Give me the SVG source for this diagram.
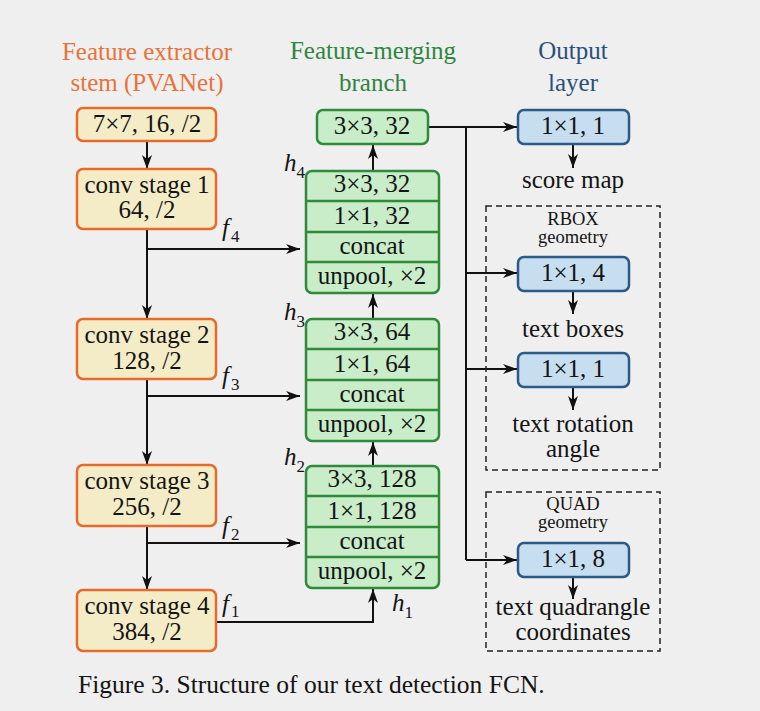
<svg xmlns="http://www.w3.org/2000/svg" width="760" height="711" viewBox="0 0 760 711">
<defs>
<marker id="ah" viewBox="0 0 14 10" refX="14" refY="5" markerWidth="14" markerHeight="10" markerUnits="userSpaceOnUse" orient="auto">
<path d="M0,0 L14,5 L0,10 L4,5 z" fill="#111"/>
</marker>
<style>
text{font-family:"Liberation Serif","Times New Roman",serif;fill:#141414}
.lbl{font-size:25px}
.small{font-size:18.5px}
.cap{font-size:25.5px}
.or{fill:#f4ecc7;stroke:#e66a2c;stroke-width:2.5}
.gr{fill:#c9ecc9;stroke:#2f8a3c;stroke-width:2.5}
.gl{stroke:#2f8a3c;stroke-width:2.5}
.bl{fill:#c6def0;stroke:#2b5a87;stroke-width:2.5}
.ln{fill:none;stroke:#111;stroke-width:2}
.ar{fill:none;stroke:#111;stroke-width:2;marker-end:url(#ah)}
.ds{fill:none;stroke:#222;stroke-width:1.5;stroke-dasharray:6,4}
.var{font-style:italic;font-size:25px}
.idx{font-size:17px;font-style:normal}
</style>
</defs>
<rect width="760" height="711" fill="#efefef"/>

<g id="headers" text-anchor="middle">
<text class="lbl" x="147" y="60" style="fill:#e8733a">Feature extractor</text>
<text class="lbl" x="147" y="91" style="fill:#e8733a">stem (PVANet)</text>
<text class="lbl" x="373" y="59" style="fill:#2e8540">Feature-merging</text>
<text class="lbl" x="373" y="91" style="fill:#2e8540">branch</text>
<text class="lbl" x="573" y="59" style="fill:#2a4f7a">Output</text>
<text class="lbl" x="573" y="91" style="fill:#2a4f7a">layer</text>
</g>

<g id="connectors">
<line class="ar" x1="147" y1="141" x2="147" y2="169"/>
<line class="ar" x1="147" y1="229" x2="147" y2="319"/>
<line class="ar" x1="147" y1="249" x2="300" y2="249"/>
<line class="ar" x1="147" y1="379" x2="147" y2="465"/>
<line class="ar" x1="147" y1="396" x2="300" y2="396"/>
<line class="ar" x1="147" y1="526" x2="147" y2="590"/>
<line class="ar" x1="147" y1="543" x2="300" y2="543"/>
<polyline class="ar" points="216,622 373,622 373,589"/>
<line class="ar" x1="373" y1="466" x2="373" y2="442"/>
<line class="ar" x1="373" y1="319" x2="373" y2="294"/>
<line class="ar" x1="373" y1="171" x2="373" y2="145"/>
<line class="ar" x1="428" y1="127" x2="517" y2="127"/>
<polyline class="ln" points="466,127 466,560"/>
<line class="ar" x1="466" y1="273" x2="517" y2="273"/>
<line class="ar" x1="466" y1="369" x2="517" y2="369"/>
<line class="ar" x1="466" y1="560" x2="517" y2="560"/>
<line class="ar" x1="573" y1="144" x2="573" y2="168"/>
<line class="ar" x1="573" y1="291" x2="573" y2="314"/>
<line class="ar" x1="573" y1="387" x2="573" y2="410"/>
<line class="ar" x1="573" y1="577" x2="573" y2="599"/>
</g>

<g id="stem0" text-anchor="middle"><rect class="or" x="77" y="108" width="139" height="33" rx="6"/><text class="lbl" x="147" y="132">7×7, 16, /2</text></g>
<g id="stage1" text-anchor="middle"><rect class="or" x="77" y="169" width="139" height="60" rx="6"/><text class="lbl" x="147" y="193">conv stage 1</text><text class="lbl" x="147" y="218">64, /2</text></g>
<g id="stage2" text-anchor="middle"><rect class="or" x="77" y="319" width="139" height="60" rx="6"/><text class="lbl" x="147" y="343">conv stage 2</text><text class="lbl" x="147" y="369">128, /2</text></g>
<g id="stage3" text-anchor="middle"><rect class="or" x="77" y="465" width="139" height="61" rx="6"/><text class="lbl" x="147" y="489">conv stage 3</text><text class="lbl" x="147" y="515">256, /2</text></g>
<g id="stage4" text-anchor="middle"><rect class="or" x="77" y="590" width="139" height="61" rx="6"/><text class="lbl" x="147" y="614">conv stage 4</text><text class="lbl" x="147" y="640">384, /2</text></g>

<g id="merge_top" text-anchor="middle"><rect class="gr" x="317" y="110" width="111" height="34" rx="6"/><text class="lbl" x="372" y="134">3×3, 32</text></g>

<g id="merge_h4" text-anchor="middle">
<rect class="gr" x="306" y="171" width="133" height="122" rx="6"/>
<line class="gl" x1="306" y1="201" x2="439" y2="201"/>
<line class="gl" x1="306" y1="232" x2="439" y2="232"/>
<line class="gl" x1="306" y1="262" x2="439" y2="262"/>
<text class="lbl" x="372" y="192">3×3, 32</text>
<text class="lbl" x="372" y="224">1×1, 32</text>
<text class="lbl" x="372" y="254">concat</text>
<text class="lbl" x="372" y="284">unpool, ×2</text>
</g>
<g id="merge_h3" text-anchor="middle">
<rect class="gr" x="306" y="319" width="133" height="122" rx="6"/>
<line class="gl" x1="306" y1="349" x2="439" y2="349"/>
<line class="gl" x1="306" y1="380" x2="439" y2="380"/>
<line class="gl" x1="306" y1="410" x2="439" y2="410"/>
<text class="lbl" x="372" y="340">3×3, 64</text>
<text class="lbl" x="372" y="372">1×1, 64</text>
<text class="lbl" x="372" y="402">concat</text>
<text class="lbl" x="372" y="432">unpool, ×2</text>
</g>
<g id="merge_h2" text-anchor="middle">
<rect class="gr" x="306" y="466" width="133" height="122" rx="6"/>
<line class="gl" x1="306" y1="496" x2="439" y2="496"/>
<line class="gl" x1="306" y1="527" x2="439" y2="527"/>
<line class="gl" x1="306" y1="557" x2="439" y2="557"/>
<text class="lbl" x="372" y="487">3×3, 128</text>
<text class="lbl" x="372" y="519">1×1, 128</text>
<text class="lbl" x="372" y="549">concat</text>
<text class="lbl" x="372" y="579">unpool, ×2</text>
</g>

<g id="labels">
<text x="222" y="236" class="var">f<tspan class="idx" dx="2" dy="6">4</tspan></text>
<text x="222" y="384" class="var">f<tspan class="idx" dx="2" dy="6">3</tspan></text>
<text x="222" y="534" class="var">f<tspan class="idx" dx="2" dy="6">2</tspan></text>
<text x="222" y="612" class="var">f<tspan class="idx" dx="2" dy="5">1</tspan></text>
<text x="284" y="171" class="var">h<tspan class="idx" dy="7">4</tspan></text>
<text x="284" y="320" class="var">h<tspan class="idx" dy="7">3</tspan></text>
<text x="284" y="465" class="var">h<tspan class="idx" dy="7">2</tspan></text>
<text x="392" y="611" class="var">h<tspan class="idx" dy="7">1</tspan></text>
</g>

<g id="outputs" text-anchor="middle">
<g id="score"><rect class="bl" x="518" y="110" width="111" height="34" rx="6"/><text class="lbl" x="573" y="134">1×1, 1</text></g>
<text class="lbl" x="573" y="188">score map</text>
<g id="rbox">
<rect class="ds" x="486" y="206" width="174" height="264"/>
<text class="small" x="573" y="225">RBOX</text>
<text class="small" x="573" y="243">geometry</text>
</g>
<g id="box4"><rect class="bl" x="518" y="257" width="111" height="34" rx="6"/><text class="lbl" x="573" y="281">1×1, 4</text></g>
<text class="lbl" x="573" y="337">text boxes</text>
<g id="angle1"><rect class="bl" x="518" y="353" width="111" height="34" rx="6"/><text class="lbl" x="573" y="377">1×1, 1</text></g>
<text class="lbl" x="573" y="432">text rotation</text>
<text class="lbl" x="573" y="457">angle</text>
<g id="quad">
<rect class="ds" x="486" y="492" width="174" height="159"/>
<text class="small" x="573" y="510">QUAD</text>
<text class="small" x="573" y="528">geometry</text>
</g>
<g id="box8"><rect class="bl" x="518" y="543" width="111" height="34" rx="6"/><text class="lbl" x="573" y="567">1×1, 8</text></g>
<text class="lbl" x="573" y="615">text quadrangle</text>
<text class="lbl" x="573" y="640">coordinates</text>
</g>

<text class="cap" x="78" y="693">Figure 3. Structure of our text detection FCN.</text>
</svg>
